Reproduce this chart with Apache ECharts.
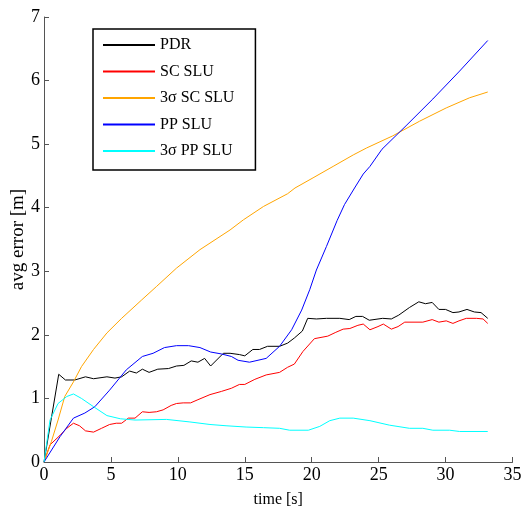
<!DOCTYPE html>
<html>
<head>
<meta charset="utf-8">
<script src="https://cdn.jsdelivr.net/npm/echarts@6/dist/echarts.min.js"></script>
<style>
  html, body { margin: 0; padding: 0; background: #fff; }
  #chart { width: 523px; height: 512px; }
</style>
</head>
<body>
<div id="chart"></div>
<script>
// [time s, avg error m]
const pdr = [[0,0],[1.1,1.38],[1.6,1.29],[2.3,1.29],[3.1,1.34],[3.7,1.31],[4.7,1.34],[5.3,1.32],[5.8,1.34],[6.4,1.43],[6.9,1.40],[7.35,1.46],[7.85,1.41],[8.5,1.46],[9.3,1.47],[9.9,1.51],[10.45,1.52],[11.0,1.59],[11.5,1.57],[12.0,1.63],[12.45,1.51],[13.4,1.71],[13.9,1.71],[14.6,1.69],[15.0,1.67],[15.6,1.77],[16.1,1.77],[16.7,1.82],[17.6,1.82],[18.2,1.87],[18.7,1.95],[19.3,2.06],[19.7,2.26],[20.35,2.25],[21.1,2.26],[22.1,2.26],[22.8,2.24],[23.3,2.29],[23.8,2.29],[24.3,2.23],[25.3,2.26],[25.95,2.25],[26.5,2.31],[27.3,2.43],[28.0,2.52],[28.5,2.49],[29.0,2.51],[29.5,2.40],[30.0,2.40],[30.55,2.35],[31.0,2.36],[31.6,2.40],[32.15,2.36],[32.65,2.35],[33.15,2.26]];
const scSlu = [[0,0],[0.45,0.27],[1.2,0.42],[1.7,0.53],[2.2,0.61],[2.65,0.57],[3.1,0.49],[3.7,0.47],[4.3,0.53],[4.9,0.59],[5.4,0.61],[5.8,0.61],[6.3,0.69],[6.8,0.69],[7.35,0.79],[7.85,0.78],[8.4,0.79],[8.9,0.82],[9.5,0.89],[9.9,0.92],[10.4,0.93],[10.95,0.93],[11.5,0.98],[12.4,1.06],[13.25,1.11],[14.0,1.16],[14.6,1.22],[15.0,1.22],[15.75,1.30],[16.6,1.37],[17.6,1.41],[18.2,1.49],[18.7,1.54],[19.35,1.74],[20.2,1.94],[21.2,1.98],[21.8,2.04],[22.35,2.09],[22.85,2.10],[23.45,2.15],[23.85,2.17],[24.35,2.08],[24.95,2.13],[25.35,2.17],[25.95,2.09],[26.45,2.13],[26.95,2.20],[28.3,2.20],[29.0,2.24],[29.5,2.20],[30.05,2.22],[30.55,2.18],[31.0,2.22],[31.55,2.26],[32.3,2.26],[32.8,2.25],[33.15,2.18]];
const scSigma = [[0,0],[0.55,0.32],[1.05,0.66],[1.55,1.03],[2.2,1.26],[2.8,1.50],[3.7,1.77],[4.7,2.03],[5.8,2.26],[7.3,2.55],[8.4,2.76],[9.9,3.05],[11.65,3.34],[13.9,3.65],[14.9,3.81],[16.4,4.02],[18.2,4.22],[18.75,4.31],[20.1,4.47],[21.6,4.65],[23.1,4.83],[24.1,4.94],[26.05,5.13],[28.05,5.36],[30.05,5.57],[31.8,5.73],[33.15,5.82]];
const ppSlu = [[0,0],[1.2,0.40],[2.2,0.69],[3.05,0.77],[3.8,0.87],[4.9,1.13],[6.15,1.45],[7.35,1.66],[8.15,1.71],[9.0,1.80],[9.9,1.83],[10.8,1.83],[11.65,1.80],[12.45,1.73],[13.25,1.70],[14.0,1.66],[14.5,1.60],[15.35,1.57],[16.6,1.63],[17.6,1.82],[18.5,2.08],[19.25,2.39],[19.85,2.71],[20.35,3.02],[21.1,3.39],[21.9,3.80],[22.45,4.05],[23.2,4.31],[23.85,4.53],[24.35,4.65],[25.25,4.92],[27.05,5.29],[29.05,5.71],[31.05,6.15],[33.15,6.63]];
const ppSigma = [[0,0],[0.45,0.66],[1.05,0.92],[1.7,1.03],[2.2,1.07],[2.8,1.00],[3.7,0.87],[4.7,0.73],[5.7,0.68],[6.8,0.66],[9.15,0.67],[10.9,0.63],[12.4,0.59],[13.6,0.57],[15.1,0.55],[16.4,0.54],[17.6,0.53],[18.35,0.50],[19.75,0.50],[20.6,0.56],[21.35,0.65],[22.1,0.69],[23.1,0.69],[24.35,0.65],[25.8,0.58],[27.3,0.53],[28.3,0.53],[29.05,0.50],[30.3,0.50],[31.05,0.48],[33.15,0.48]];

const seriesNames = ["PDR", "SC SLU", "3σ SC SLU", "PP SLU", "3σ PP SLU"];
const seriesData = [pdr, scSlu, scSigma, ppSlu, ppSigma];
const seriesColors = ["#000000", "#ff0000", "#ffa500", "#0000ff", "#00ffff"];

const font = "Liberation Serif";
const chart = echarts.init(document.getElementById("chart"));

const option = {
  animation: false,
  backgroundColor: "#fff",
  grid: { left: 44, right: 10.5, top: 17, bottom: 50, containLabel: false, outerBoundsMode: "none" },
  xAxis: {
    type: "value",
    min: 0, max: 35, interval: 5,
    name: "time [s]",
    nameLocation: "middle",
    nameGap: 30,
    nameMoveOverlap: false,
    nameTextStyle: { fontFamily: font, fontSize: 16, color: "#000" },
    axisLine: { lineStyle: { color: "#555", width: 1 } },
    axisTick: { inside: true, length: 5, lineStyle: { color: "#555" } },
    axisLabel: { fontFamily: font, fontSize: 18, color: "#000", margin: 4 },
    splitLine: { show: false }
  },
  yAxis: {
    type: "value",
    min: 0, max: 7, interval: 1,
    name: "avg error [m]",
    nameLocation: "middle",
    nameGap: 16,
    nameMoveOverlap: false,
    nameTextStyle: { fontFamily: font, fontSize: 19, color: "#000" },
    axisLine: { show: true, lineStyle: { color: "#555", width: 1 } },
    axisTick: { show: true, inside: true, length: 5, lineStyle: { color: "#555" } },
    axisLabel: { fontFamily: font, fontSize: 18, color: "#000", margin: 4 },
    splitLine: { show: false }
  },
  legend: {
    orient: "vertical",
    left: 93, top: 29,
    padding: [8, 21, 11, 10],
    itemWidth: 52, itemHeight: 2, itemGap: 10.5,
    icon: "rect",
    borderColor: "#000", borderWidth: 1.5,
    backgroundColor: "#fff",
    data: seriesNames,
    textStyle: { fontFamily: font, fontSize: 16, color: "#000", lineHeight: 16 }
  },
  series: seriesNames.map((name, i) => ({
    name: name,
    type: "line",
    data: seriesData[i],
    showSymbol: false,
    symbol: "none",
    color: seriesColors[i],
    lineStyle: { width: 1, color: seriesColors[i] }
  }))
};
chart.setOption(option);
</script>
</body>
</html>
